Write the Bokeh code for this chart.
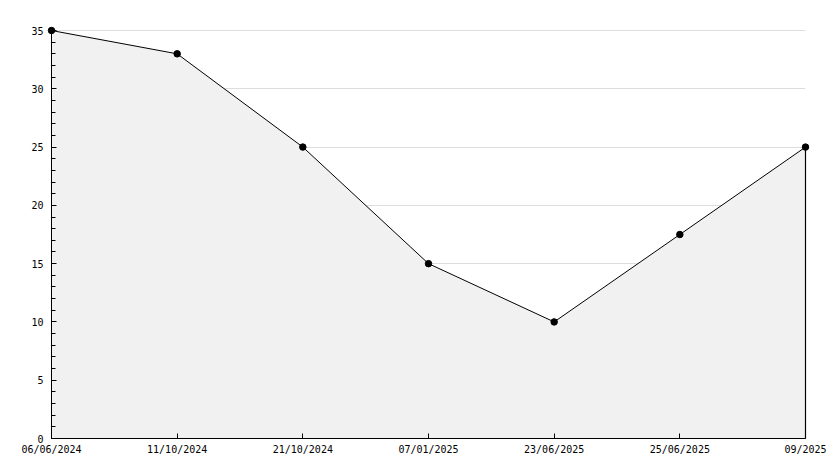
from bokeh.plotting import figure
from bokeh.models import Range1d, FixedTicker, SingleIntervalTicker
from bokeh.embed import file_html
from bokeh.resources import INLINE

dates = ["06/06/2024", "11/10/2024", "21/10/2024", "07/01/2025", "23/06/2025", "25/06/2025", "09/2025"]
values = [35, 33, 25, 15, 10, 17.5, 25]
xs = list(range(len(dates)))

FONT = "DejaVu Sans Mono"

p = figure(width=834, height=468, output_backend="svg", toolbar_location=None,
           x_range=Range1d(0, len(dates) - 1), y_range=Range1d(0, 35 * 409 / 408),
           min_border_left=51, min_border_right=29, min_border_top=29, min_border_bottom=30)
p.frame_width = 754
p.frame_height = 409
p.outline_line_color = None
p.background_fill_color = "white"
p.border_fill_color = "white"

p.varea(x=xs, y1=[0] * len(xs), y2=values, fill_color="#f1f1f1")
p.line(xs, values, line_color="black", line_width=1)
p.segment(x0=[xs[-1]], y0=[0], x1=[xs[-1]], y1=[values[-1]], line_color="black", line_width=1.2,
          level="overlay")
p.scatter(xs, values, marker="circle", size=6.5, fill_color="black", line_color="black", level="overlay")

p.xgrid.grid_line_color = None
p.ygrid.grid_line_color = "#dddddd"
p.ygrid.ticker = SingleIntervalTicker(interval=5)

xa = p.xaxis[0]
xa.ticker = FixedTicker(ticks=xs)
xa.major_label_overrides = {i: d for i, d in enumerate(dates)}
xa.major_tick_in = 5
xa.major_tick_out = 0
xa.minor_tick_line_color = None
xa.major_label_standoff = 5
xa.axis_line_color = "black"
xa.major_label_text_font = FONT
xa.major_label_text_font_size = "10px"
xa.major_label_text_color = "black"

ya = p.yaxis[0]
ya.ticker = SingleIntervalTicker(interval=5, num_minor_ticks=5)
ya.major_tick_in = 5
ya.major_tick_out = 0
ya.minor_tick_in = 4
ya.minor_tick_out = 0
ya.major_label_standoff = 8
ya.axis_line_color = "black"
ya.major_label_text_font = FONT
ya.major_label_text_font_size = "10px"
ya.major_label_text_color = "black"

open("out.html", "w").write(file_html(p, INLINE))
